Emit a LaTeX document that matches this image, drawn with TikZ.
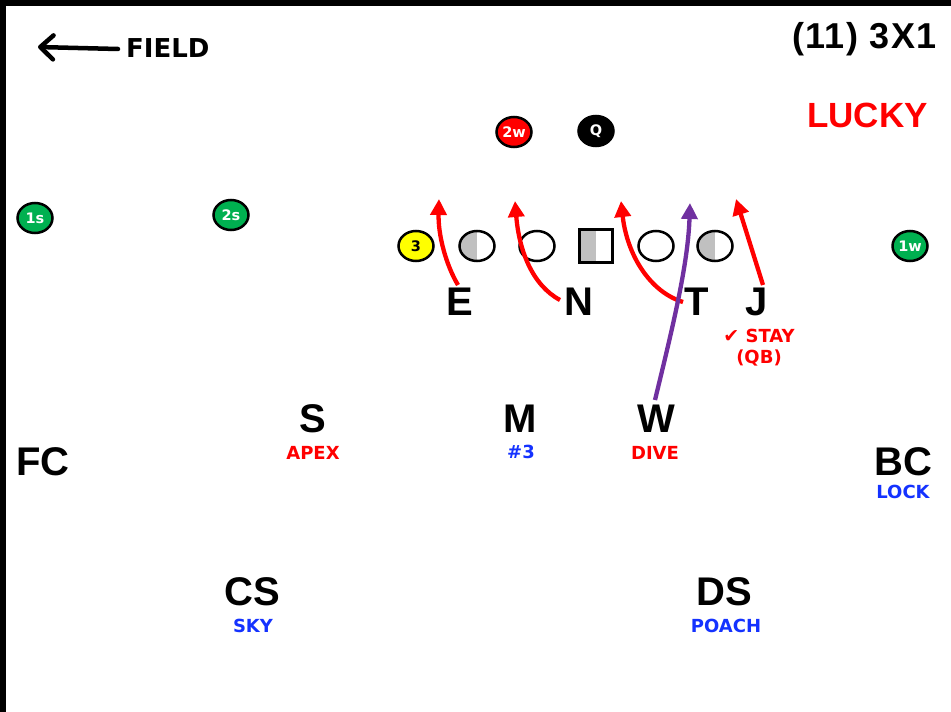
\documentclass[tikz,border=0pt]{standalone}
\usepackage{fontspec}
\setmainfont{DejaVu Sans}
\newfontfamily\arialf{Liberation Sans}
\newfontfamily\dvs{DejaVu Sans}
\usetikzlibrary{shapes.geometric,arrows.meta}
\definecolor{fred}{RGB}{255,0,0}
\definecolor{fblue}{RGB}{20,50,255}
\definecolor{fgreen}{RGB}{0,176,80}
\definecolor{fpurple}{RGB}{112,48,160}
\definecolor{fyellow}{RGB}{255,255,0}
\definecolor{fgray}{RGB}{192,192,192}
\tikzset{
  player/.style={ellipse, draw=black, line width=2.5pt, minimum width=35pt, minimum height=30pt, inner sep=0pt, font=\bfseries\fontsize{14.5}{14.5}\selectfont},
  halfgray/.style={path picture={\fill[fgray] (path picture bounding box.south west) rectangle (path picture bounding box.north);}},
  defl/.style={font=\arialf\bfseries\fontsize{40}{40}\selectfont, inner sep=0pt},
  lbl/.style={font=\bfseries\fontsize{18}{18}\selectfont, inner sep=0pt},
  route/.style={draw=fred, line width=4.3pt, -{Triangle[length=16pt,width=16pt]}},
  proute/.style={draw=fpurple, line width=4.3pt, -{Triangle[length=16pt,width=16pt]}}
}
\begin{document}
\begin{tikzpicture}[x=1pt,y=-1pt]
\useasboundingbox (0,0) rectangle (951,712);
\fill[black] (0,0) rectangle (951,6);
\fill[black] (0,0) rectangle (6,712);

% header
\node[font=\bfseries\fontsize{26}{26}\selectfont, anchor=west, inner sep=0pt] (field) at (126,48) {FIELD};
\coordinate (fieldtip) at (38,47);
\draw[line width=4.5pt, line cap=round, -{Straight Barb[length=13pt,width=24pt,line cap=round,round]}] ([xshift=-8pt,yshift=-1pt]field.west) -- (fieldtip);
\node[font=\arialf\bfseries\fontsize{36}{36}\selectfont\addfontfeature{LetterSpace=4}, anchor=east, inner sep=0pt] (form) at (937,39) {(11) 3X1};
\node[font=\arialf\bfseries\fontsize{35}{35}\selectfont, anchor=east, inner sep=0pt, text=fred] (lucky) at (928,115) {LUCKY};

% offense
\node[player, fill=fred, text=white] (w2) at (514,132) {2w};
\node[player, fill=black, text=white] (qb) at (596,131) {Q};
\node[player, fill=fyellow, text=black] (three) at (416,246) {3};
\node[player, fill=white, halfgray] (lt) at (477,246) {};
\node[player, fill=white] (lg) at (537,246) {};
\node[rectangle, draw=black, line width=2.5pt, minimum size=33pt, inner sep=0pt, fill=white, halfgray] (c) at (596,246) {};
\node[player, fill=white] (rg) at (656,246) {};
\node[player, fill=white, halfgray] (rt) at (715,246) {};
\node[player, fill=fgreen, text=white] (s1) at (35,218) {1s};
\node[player, fill=fgreen, text=white] (s2) at (231,215) {2s};
\node[player, fill=fgreen, text=white] (w1) at (910,246) {1w};

% defense
\node[defl] (E) at (460,302) {E};
\node[defl] (N) at (579,302) {N};
\node[defl] (T) at (697,302) {T};
\node[defl] (J) at (757,302) {J};
\node[defl] (S) at (313,419) {S};
\node[defl] (M) at (520,419) {M};
\node[defl] (W) at (656,419) {W};
\node[defl] (FC) at (43,462) {FC};
\node[defl] (BC) at (903,462) {BC};
\node[defl] (CS) at (252,592) {CS};
\node[defl] (DS) at (724,592) {DS};

\node[lbl, text=fred] (apex) at (313,453) {APEX};
\node[lbl, text=fblue] (n3) at (521,452) {\#3};
\node[lbl, text=fred] (dive) at (655,453) {DIVE};
\node[lbl, text=fblue] (lock) at (903,492) {LOCK};
\node[lbl, text=fblue] (sky) at (253,626) {SKY};
\node[lbl, text=fblue] (poach) at (726,626) {POACH};
\node[lbl, text=fred] (stay) at (759,336) {{\dvs\fontsize{19}{19}\selectfont ✔} STAY};
\node[lbl, text=fred] (qbl) at (759,358) {(QB)};

% routes
\coordinate (Es) at (458,285); \coordinate (Ee) at (439,199);
\coordinate (Ns) at (560,300); \coordinate (Ne) at (515,201);
\coordinate (Ts) at (683,302); \coordinate (Te) at (621,201);
\coordinate (Js) at (763,285); \coordinate (Je) at (736,199);
\coordinate (Ws) at (655,400); \coordinate (We) at (690,203);
\draw[route] (Es) .. controls (446,265) and (438,235) .. (Ee);
\draw[route] (Ns) .. controls (532,285) and (519,250) .. (Ne);
\draw[route] (Ts) .. controls (650,292) and (627,255) .. (Te);
\draw[route] (Js) -- (Je);
\draw[proute] (Ws) .. controls (672,330) and (688,265) .. (We);
\end{tikzpicture}
\end{document}
